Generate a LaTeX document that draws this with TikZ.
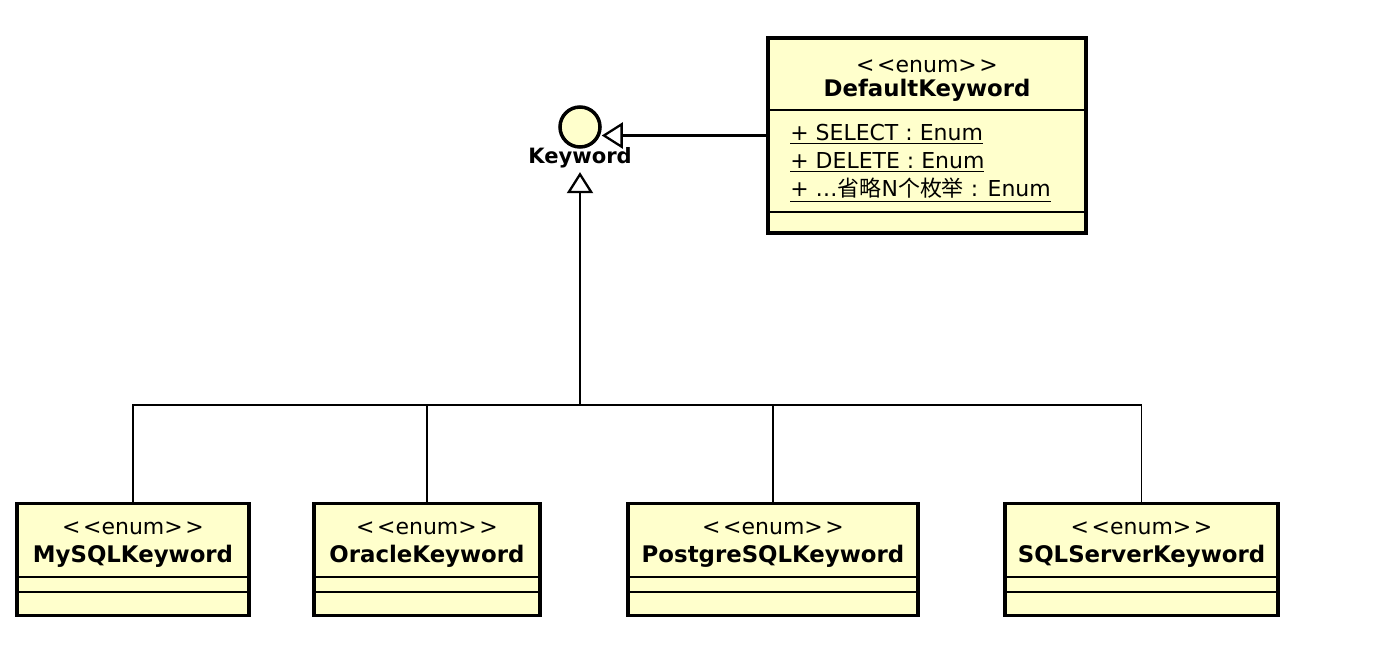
\documentclass[tikz,border=0pt]{standalone}
\usepackage{fontspec}
\setmainfont{DejaVu Sans}
\newfontfamily\cjk{Noto Sans CJK SC}
\usetikzlibrary{arrows.meta}
\definecolor{umlyellow}{HTML}{FFFFCC}
\newcommand{\px}{0.02cm}
\newcommand{\enumtag}{<\kern1.5pt<enum>\kern1.5pt>}

\begin{document}
\begin{tikzpicture}[x=0.02cm, y=-0.02cm, font=\fontsize{12.5}{14}\selectfont,
    classbox/.style={draw, line width=2pt, fill=umlyellow, inner sep=0pt},
    divider/.style={line width=0.8pt},
    stereo/.style={inner sep=0pt},
    classname/.style={inner sep=0pt, font=\fontsize{13}{15}\selectfont\bfseries},
    attr/.style={inner sep=0pt, anchor=west},
    realize/.style={line width=1.3pt, -{Triangle[open, length=0.42cm, width=0.52cm]}},
    branch/.style={line width=1pt}]

  \fill[white] (0,0) rectangle (1388,650);
  \useasboundingbox (0,0) rectangle (1388,650);

  % Draw the interface
  \node[draw, circle, line width=2pt, fill=umlyellow, minimum size=40*\px, inner sep=0pt] (kw) at (580,127) {};
  \node[classname, inner sep=2pt, font=\fontsize{12}{14}\selectfont\bfseries] (kwlabel) at (580,158) {Keyword};

  % Draw the DefaultKeyword box
  \node[classbox, minimum width=318*\px, minimum height=195*\px] (default) at (927,135.5) {};
  \node[stereo] at (927,66) {\enumtag};
  \node[classname] at (927,90) {DefaultKeyword};
  \draw[divider] (default.west |- 0,110) -- (default.east |- 0,110);
  \node[attr] (select) at (790,134) {\underline{+ SELECT : Enum}};
  \node[attr] (delete) at (790,162) {\underline{+ DELETE : Enum}};
  \node[attr] (more) at (790,190) {\underline{+ …{\cjk 省略}N{\cjk 个枚举} : Enum}};
  \draw[divider] (default.west |- 0,212) -- (default.east |- 0,212);

  % Draw the four enum boxes
  \foreach \nm/\cx/\w/\title in {mysql/133/232/MySQLKeyword, oracle/427/226/OracleKeyword,
      postgre/773/290/PostgreSQLKeyword, sqlserver/1141.5/273/SQLServerKeyword} {
    \node[classbox, minimum width=\w*\px, minimum height=112*\px] (\nm) at (\cx,559.5) {};
    \node[stereo] at (\cx,528) {\enumtag};
    \node[classname] at (\cx,556) {\title};
    \draw[divider] (\nm.west |- 0,577) -- (\nm.east |- 0,577);
    \draw[divider] (\nm.west |- 0,592) -- (\nm.east |- 0,592);
  }

  % Draw the realizations
  \coordinate (bus) at (580,405);
  \draw[branch] (mysql.north) |- (sqlserver.north |- bus) -- (sqlserver.north);
  \draw[branch] (oracle.north) -- (oracle.north |- bus);
  \draw[branch] (postgre.north) -- (postgre.north |- bus);
  \draw[realize] (bus) -- (kwlabel.south);
  \draw[realize] (default.west) -- (default.west -| kw.east);

\end{tikzpicture}
\end{document}
